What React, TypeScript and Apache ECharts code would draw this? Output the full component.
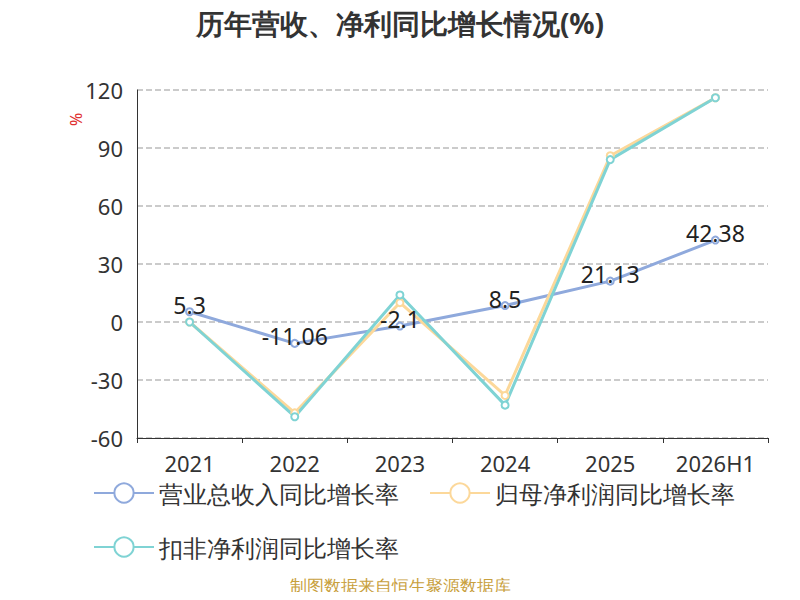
import React, { useRef, useEffect } from 'react';
import * as echarts from 'echarts';

const categories = ['2021', '2022', '2023', '2024', '2025', '2026H1'];
const revenueGrowth = [5.3, -11.06, -2.1, 8.5, 21.13, 42.38];
const netProfitGrowth = [0, -47, 10, -38, 86, 116];
const deductedProfitGrowth = [0, -49, 14, -43, 84, 116];

const App = () => {
  const chartRef = useRef<HTMLDivElement>(null);

  useEffect(() => {
    const chart = echarts.init(chartRef.current, null, { renderer: 'svg' });
    const font = '"Noto Sans", sans-serif';
    const line = (name: string, data: number[], color: string, label: boolean) => ({
      name,
      type: 'line',
      data,
      symbol: 'emptyCircle',
      symbolSize: 7,
      lineStyle: { width: 3, color },
      itemStyle: { color },
      label: { show: label, position: 'top', fontSize: 23, color: '#222', fontFamily: font, offset: [0, 14] },
    });
    chart.setOption({
      animation: false,
      textStyle: { fontFamily: font },
      title: {
        text: '历年营收、净利同比增长情况(%)',
        left: 'center',
        top: 4,
        textStyle: { fontSize: 28, fontWeight: 'bold', color: '#333' },
      },
      grid: { left: 137, right: 32, top: 90, bottom: 162 },
      legend: {
        left: 88,
        top: 476,
        width: 680,
        itemWidth: 60,
        itemHeight: 24,
        itemGap: 30,
        textStyle: { fontSize: 24, color: '#333' },
      },
      xAxis: [
        {
          type: 'category',
          position: 'bottom',
          data: categories,
          axisLine: { show: false },
          axisTick: { show: false },
          axisLabel: { fontSize: 22, color: '#333', margin: 14 },
        },
        {
          type: 'category',
          position: 'bottom',
          offset: 0,
          data: categories,
          axisLine: { onZero: true, lineStyle: { color: '#333' } },
          axisTick: { show: true, lineStyle: { color: '#333' } },
          axisLabel: { show: false },
        },
      ],
      yAxis: {
        type: 'value',
        min: -60,
        max: 120,
        interval: 30,
        axisLine: { show: true, lineStyle: { color: '#333' } },
        axisLabel: { fontSize: 22, color: '#333', margin: 14 },
        splitLine: { lineStyle: { type: 'dashed', color: '#bbb', width: 1.5 } },
      },
      graphic: [
        {
          type: 'text',
          x: 68,
          y: 126,
          rotation: Math.PI / 2,
          style: { text: '%', fill: '#e03030', fontSize: 16, fontFamily: font },
        },
        {
          type: 'text',
          left: 'center',
          top: 577,
          style: { text: '制图数据来自恒生聚源数据库', fill: '#c8a03c', fontSize: 17, fontFamily: font },
        },
      ],
      series: [
        line('营业总收入同比增长率', revenueGrowth, '#8fa9dc', true),
        line('归母净利润同比增长率', netProfitGrowth, '#fcd89a', false),
        line('扣非净利润同比增长率', deductedProfitGrowth, '#7fd3d4', false),
      ],
    });
    return () => chart.dispose();
  }, []);

  return <div ref={chartRef} style={{ width: 800, height: 600, margin: -8 }} />;
};

export default App;
